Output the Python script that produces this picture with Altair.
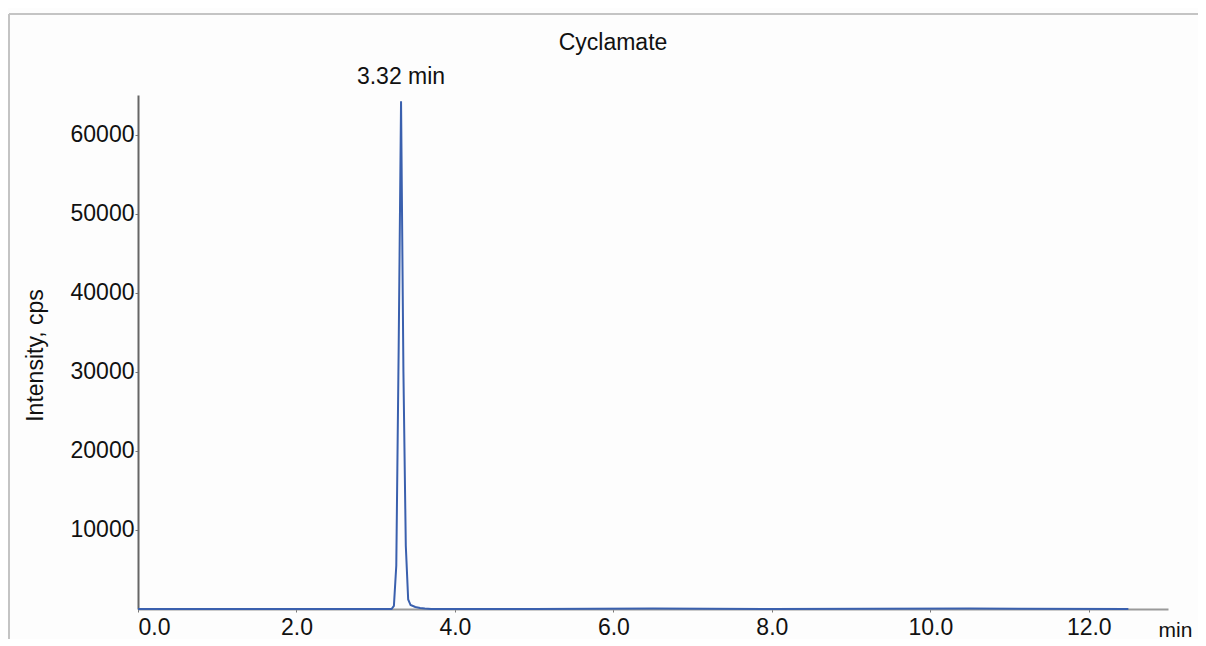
import altair as alt
import pandas as pd

time_min = [0.0, 1.0, 2.0, 3.0, 3.20, 3.23, 3.26, 3.29, 3.32, 3.35, 3.38, 3.41, 3.44, 3.50, 3.56, 3.62, 3.70,
            5.0, 6.5, 8.0, 10.5, 12.5]
intensity = [0, 0, 0, 0, 0, 400, 5500, 33000, 64200, 30000, 8000, 1200, 500, 250, 120, 50, 0,
             0, 60, 0, 50, 0]
x_ticks = [0, 2, 4, 6, 8, 10, 12]
y_ticks = [10000, 20000, 30000, 40000, 50000, 60000]
peak_time = [3.32]
peak_value = [64200]
peak_label = ["3.32 min"]
chart_title = ["Cyclamate"]

df = pd.DataFrame({"t": time_min, "v": intensity})
ann = pd.DataFrame({"t": peak_time, "v": peak_value, "label": peak_label})
ttl = pd.DataFrame({"label": chart_title})

FONT = "Liberation Sans"
FS = 23

xscale = alt.Scale(domain=[0, 13], nice=False, zero=False)
yscale = alt.Scale(domain=[0, 65000], nice=False)

line = alt.Chart(df).mark_line(color="#3a60ae", strokeWidth=2, interpolate="linear").encode(
    x=alt.X("t:Q", scale=xscale,
            axis=alt.Axis(values=x_ticks, format=".1f", grid=False, title="min",
                          titleAngle=0, titleAlign="left", titleAnchor="start",
                          titleX=1020, titleY=27, titleBaseline="alphabetic",
                          titleFont=FONT, titleFontSize=21, titleFontWeight="normal",
                          titleColor="#111",
                          labelFont=FONT, labelFontSize=FS, labelColor="#111",
                          labelPadding=4, tickSize=3, tickColor="#777",
                          domainColor="#9a9a9a", domainWidth=2)),
    y=alt.Y("v:Q", scale=yscale,
            axis=alt.Axis(values=y_ticks, format="d", grid=False, title="Intensity, cps",
                          titleFont=FONT, titleFontSize=FS, titleFontWeight="normal",
                          titleColor="#111", titleX=-103, titleY=260, titleAlign="center",
                          titleBaseline="middle", titleAngle=-90,
                          labelFont=FONT, labelFontSize=FS, labelColor="#111",
                          labelPadding=1, tickSize=3, tickColor="#777",
                          domainColor="#666", domainWidth=2)),
)

text = alt.Chart(ann).mark_text(font=FONT, fontSize=FS, color="#111", baseline="alphabetic",
                                align="center", dy=-17).encode(
    x=alt.X("t:Q", scale=xscale),
    y=alt.Y("v:Q", scale=yscale),
    text="label:N",
)

title_mark = alt.Chart(ttl).mark_text(font=FONT, fontSize=FS, color="#111", baseline="alphabetic",
                                      align="center").encode(
    x=alt.value(475), y=alt.value(-45), text="label:N"
)

frame_left = alt.Chart(df).mark_rule(color="#c4c4c4", strokeWidth=2).encode(
    x=alt.value(-129), y=alt.value(-81), y2=alt.value(560)
)
frame_top = alt.Chart(df).mark_rule(color="#c4c4c4", strokeWidth=2).encode(
    x=alt.value(-129), x2=alt.value(1080), y=alt.value(-81)
)

chart = alt.layer(frame_left, frame_top, line, text, title_mark).properties(
    width=1030, height=514,
    background="#fdfdfd",
    autosize=alt.AutoSizeParams(type="none"),
    padding={"left": 130, "top": 87, "right": 30, "bottom": 30},
).configure_view(stroke=None)

chart.save("out.html", embed_options={"renderer": "svg", "actions": False})
